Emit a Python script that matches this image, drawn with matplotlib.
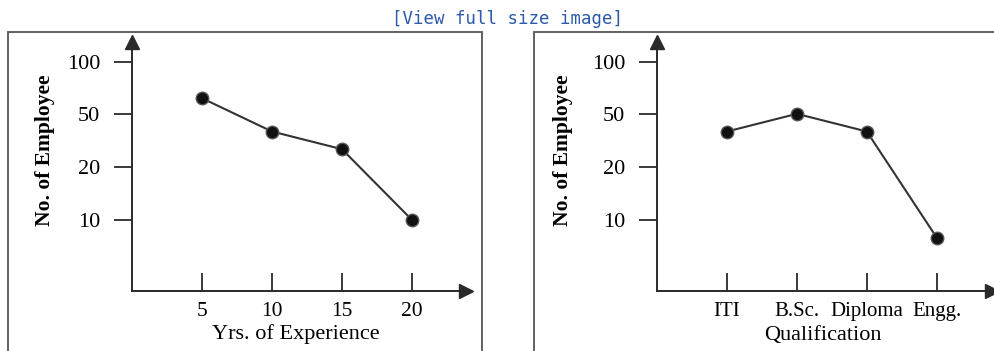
import numpy as np
import matplotlib
matplotlib.use("Agg")
import matplotlib.pyplot as plt
from matplotlib.patches import Rectangle

# === Data ===
experience = [5, 10, 15, 20]
emp_by_exp = [65, 40, 30, 10]

qualification = ["ITI", "B.Sc.", "Diploma", "Engg."]
emp_by_qual = [40, 50, 40, 7.5]

y_ticks = [10, 20, 50, 100]

# the printed y axis is not linear: 10/20/50/100 sit at equal steps
scale_vals = [0, 10, 20, 50, 100, 200]
scale_pos = [0, 71, 124, 177, 229, 281]


def fwd(v):
    return np.interp(v, scale_vals, scale_pos)


def inv(p):
    return np.interp(p, scale_pos, scale_vals)


plt.rcParams['font.family'] = ['Liberation Serif', 'DejaVu Serif']

W, H = 994, 351
fig = plt.figure(figsize=(W / 100, H / 100), dpi=100)
fig.patch.set_facecolor('white')

# === panel frames ===
for x0, x1 in [(8, 482), (534, 1010)]:
    fig.patches.append(Rectangle((x0 / W, -0.1), (x1 - x0) / W, 1.1 - 32 / H,
                                 transform=fig.transFigure, fill=False,
                                 edgecolor='#555555', linewidth=1.3))

fig.text(0.511, (H - 19) / H, "[View full size image]", ha='center', va='center',
         color='#2b5aa8', fontsize=12.5, family='DejaVu Sans Mono')

axis_col = '#2a2a2a'


def setup(ax, xlim):
    ax.set_yscale('function', functions=(fwd, inv))
    ax.set_ylim(0, 138)
    ax.set_xlim(*xlim)
    for s in ['top', 'right']:
        ax.spines[s].set_visible(False)
    for s in ['left', 'bottom']:
        ax.spines[s].set_color(axis_col)
        ax.spines[s].set_linewidth(1.4)
    ax.set_facecolor('none')
    ax.set_yticks(y_ticks)
    ax.set_yticklabels([str(t) for t in y_ticks])
    ax.yaxis.set_minor_locator(matplotlib.ticker.NullLocator())
    ax.tick_params(axis='y', direction='out', length=13, width=1.3, color=axis_col,
                   labelsize=16, pad=10)
    ax.tick_params(axis='x', direction='in', length=13, width=1.3, color=axis_col,
                   labelsize=15.5, pad=8)
    # arrow heads at the ends of the axes
    ax.plot(1, 0, '>', transform=ax.transAxes, color=axis_col, ms=10, clip_on=False)
    ax.plot(0, 1, '^', transform=ax.transAxes, color=axis_col, ms=10, clip_on=False)
    ax.set_ylabel("No. of Employee", fontsize=15.5, fontweight='bold', va='center')


# === left panel ===
ax1 = fig.add_axes([132 / W, 60 / H, 334 / W, 249 / H])
setup(ax1, (0, 23.86))
ax1.plot(experience, emp_by_exp, '-o', color='#333333', lw=1.5,
         markersize=9, markerfacecolor='#111111', markeredgecolor='#555555')
ax1.set_xticks(experience)
ax1.set_xlabel("Yrs. of Experience", fontsize=16, va='center')
ax1.xaxis.set_label_coords(0.49, -0.173)
ax1.yaxis.set_label_coords(-0.26, 0.566)

# === right panel ===
ax2 = fig.add_axes([657 / W, 60 / H, 335 / W, 249 / H])
setup(ax2, (-1, 3.79))
xq = np.arange(len(qualification))
ax2.plot(xq, emp_by_qual, '-o', color='#333333', lw=1.5,
         markersize=9, markerfacecolor='#111111', markeredgecolor='#555555')
ax2.set_xticks(xq)
ax2.set_xticklabels(qualification, fontsize=15)
ax2.set_xlabel("Qualification", fontsize=16, va='center')
ax2.xaxis.set_label_coords(0.496, -0.177)
ax2.yaxis.set_label_coords(-0.28, 0.566)

fig.savefig("out.png", dpi=100)
